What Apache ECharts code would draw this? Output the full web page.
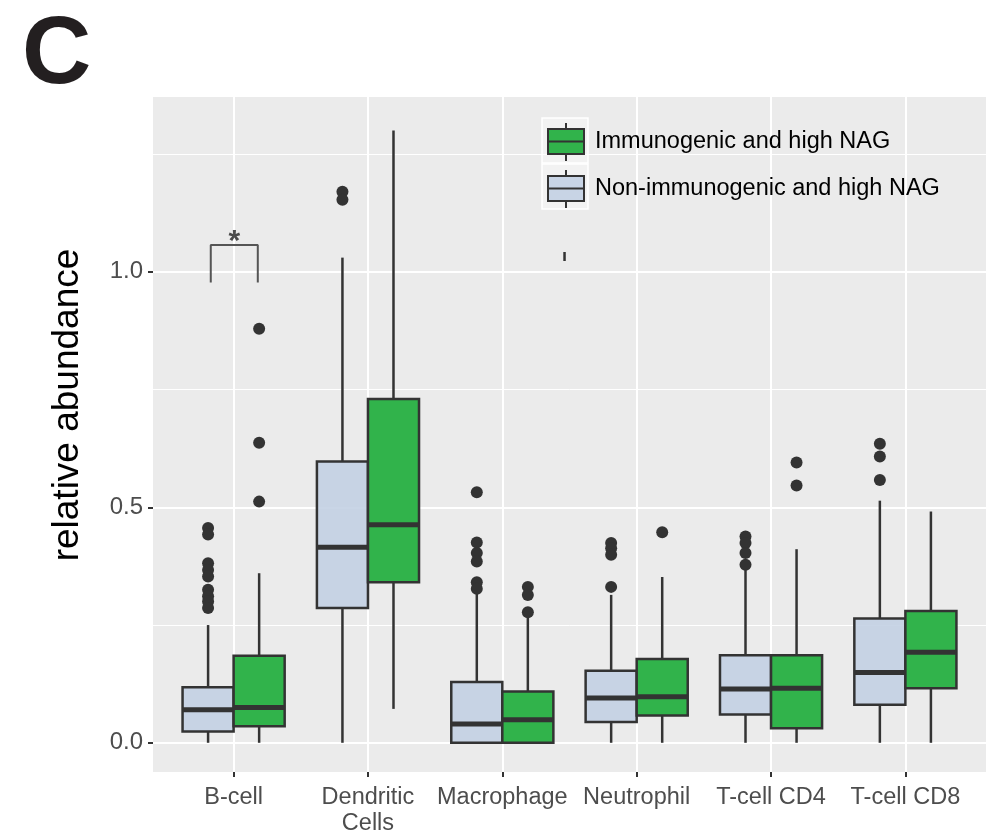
<!DOCTYPE html>
<html lang="en">
<head>
    <meta charset="UTF-8">
    <title>relative abundance</title>
    <script src="https://cdn.jsdelivr.net/npm/echarts@6/dist/echarts.min.js"></script>
    <style>
        html, body {
            margin: 0;
            padding: 0;
            background: #fff;
        }

        #chart1 {
            width: 986px;
            height: 837px;
        }
    </style>
</head>
<body>
<div id="chart1"></div>

<script>
    var FONT = "'Liberation Sans', Arial, Helvetica, sans-serif";

    var categories = ['B-cell', 'Dendritic\nCells', 'Macrophage', 'Neutrophil', 'T-cell CD4', 'T-cell CD8'];
    var seriesNames = ['Immunogenic and high NAG', 'Non-immunogenic and high NAG'];
    var yMajorTicks = [0, 0.5, 1.0];
    var yMinorTicks = [0.25, 0.75, 1.25];

    // [min, Q1, median, Q3, max] per category
    var immunoBoxes = [
        [0.000, 0.035, 0.075, 0.185, 0.360],
        [0.072, 0.341, 0.463, 0.730, 1.300],
        [0.000, 0.000, 0.049, 0.109, 0.265],
        [0.000, 0.058, 0.098, 0.178, 0.352],
        [0.000, 0.031, 0.116, 0.186, 0.411],
        [0.000, 0.116, 0.192, 0.280, 0.491]
    ];
    var nonImmunoBoxes = [
        [0.000, 0.024, 0.070, 0.118, 0.250],
        [0.000, 0.286, 0.415, 0.597, 1.030],
        [0.000, 0.000, 0.040, 0.129, 0.316],
        [0.000, 0.044, 0.095, 0.153, 0.314],
        [0.000, 0.060, 0.114, 0.186, 0.367],
        [0.000, 0.081, 0.149, 0.264, 0.514]
    ];

    // [category index, value]
    var immunoOutliers = [
        [0, 0.879], [0, 0.637], [0, 0.512],
        [2, 0.331], [2, 0.314], [2, 0.277],
        [3, 0.447],
        [4, 0.595], [4, 0.546]
    ];
    var nonImmunoOutliers = [
        [0, 0.456], [0, 0.442], [0, 0.381], [0, 0.367], [0, 0.353], [0, 0.325], [0, 0.311], [0, 0.300], [0, 0.286],
        [1, 1.170], [1, 1.153],
        [2, 0.532], [2, 0.425], [2, 0.403], [2, 0.385], [2, 0.341], [2, 0.327],
        [3, 0.424], [3, 0.413], [3, 0.399], [3, 0.331],
        [4, 0.438], [4, 0.424], [4, 0.403], [4, 0.378],
        [5, 0.635], [5, 0.608], [5, 0.558]
    ];

    // significance bracket over B-cell, and the stray dash near Macrophage
    var bracketPoints = [[0.83, 0.977], [0.83, 1.057], [1.18, 1.057], [1.18, 0.977]];
    var asteriskPoint = [1.005, 1.064];
    var strayDash = [[3.463, 1.023], [3.463, 1.042]];

    var OFFSET = 0.19, BOX_W = 0.38;
    var GREEN = '#31B34B', LIGHT = 'rgba(194,207,227,0.88)', DARK = '#333333';

    function boxSeries(name, boxes, color, sign) {
        return {
            name: name,
            type: 'custom',
            z: 3,
            itemStyle: {color: color, borderColor: DARK, borderWidth: 2.5},
            encode: {x: 0, y: [1, 2, 3, 4, 5]},
            data: boxes.map(function (b, i) {
                return [i + 1 + sign * OFFSET].concat(b);
            }),
            renderItem: function (params, api) {
                var x = api.value(0);
                var p = [1, 2, 3, 4, 5].map(function (d) {
                    return api.coord([x, api.value(d)]);
                });
                var half = api.size([BOX_W, 0])[0] / 2;
                var cx = p[0][0];
                var ls = {stroke: DARK, lineWidth: 2.5};
                return {
                    type: 'group',
                    children: [
                        {type: 'line', shape: {x1: cx, y1: p[0][1], x2: cx, y2: p[1][1]}, style: ls},
                        {type: 'line', shape: {x1: cx, y1: p[3][1], x2: cx, y2: p[4][1]}, style: ls},
                        {
                            type: 'rect',
                            shape: {x: cx - half, y: p[3][1], width: half * 2, height: p[1][1] - p[3][1]},
                            style: {fill: color, stroke: DARK, lineWidth: 2.5}
                        },
                        {
                            type: 'line',
                            shape: {x1: cx - half, y1: p[2][1], x2: cx + half, y2: p[2][1]},
                            style: {stroke: DARK, lineWidth: 5}
                        }
                    ]
                };
            }
        };
    }

    function outlierSeries(list, sign) {
        return {
            type: 'scatter',
            z: 4,
            symbolSize: 12,
            itemStyle: {color: DARK, opacity: 1},
            data: list.map(function (o) {
                return [o[0] + 1 + sign * OFFSET, o[1]];
            })
        };
    }

    var legendIcon = 'path://M18,0L18,6M0,6L36,6L36,31L0,31ZM0,18.5L36,18.5M18,31L18,38';

    var option = {
        animation: false,
        grid: {
            left: 153, top: 97, right: 0, bottom: 65,
            show: true, backgroundColor: '#EBEBEB', borderWidth: 0
        },
        legend: {
            data: seriesNames,
            orient: 'vertical',
            left: 547, top: 122,
            padding: 0,
            itemWidth: 36, itemHeight: 38, itemGap: 7,
            icon: legendIcon,
            selectedMode: false,
            textStyle: {fontFamily: FONT, fontSize: 23.5, color: '#000', padding: [0, 0, 0, 6]}
        },
        xAxis: {
            type: 'value',
            min: 0.4, max: 6.6,
            axisLine: {show: false, onZero: false},
            axisTick: {show: true, length: 5, customValues: [1, 2, 3, 4, 5, 6], lineStyle: {color: DARK, width: 2}},
            axisLabel: {
                customValues: [1, 2, 3, 4, 5, 6],
                formatter: function (v) { return categories[Math.round(v) - 1]; },
                fontFamily: FONT, fontSize: 23.5, color: '#4D4D4D', margin: 13, lineHeight: 26
            },
            splitLine: {show: true, lineStyle: {color: '#FFFFFF', width: 2}}
        },
        yAxis: {
            type: 'value',
            min: -0.062, max: 1.371,
            axisLine: {show: false, onZero: false},
            axisTick: {show: true, length: 5, customValues: yMajorTicks, lineStyle: {color: DARK, width: 2}},
            axisLabel: {
                customValues: yMajorTicks,
                formatter: function (v) { return v.toFixed(1); },
                fontFamily: FONT, fontSize: 24, color: '#4D4D4D', margin: 10
            },
            splitLine: {show: true, lineStyle: {color: '#FFFFFF', width: 2}}
        },
        graphic: [
            {
                type: 'text', x: 22, y: 57, z: 10,
                style: {text: 'C', font: 'bold 96px ' + FONT, fill: '#231F20', align: 'left', verticalAlign: 'middle'}
            },
            {
                type: 'text', x: 68, y: 405, rotation: Math.PI / 2, z: 10,
                style: {text: 'relative abundance', font: '37px ' + FONT, fill: '#000', align: 'center', verticalAlign: 'middle'}
            },
            {
                type: 'rect', z: 1, silent: true,
                shape: {x: 542, y: 118, width: 46, height: 45},
                style: {fill: '#F2F2F2', stroke: '#FFFFFF', lineWidth: 1.5}
            },
            {
                type: 'rect', z: 1, silent: true,
                shape: {x: 542, y: 164, width: 46, height: 45},
                style: {fill: '#F2F2F2', stroke: '#FFFFFF', lineWidth: 1.5}
            }
        ],
        series: [
            boxSeries(seriesNames[1], nonImmunoBoxes, LIGHT, -1),
            boxSeries(seriesNames[0], immunoBoxes, GREEN, 1),
            outlierSeries(nonImmunoOutliers, -1),
            outlierSeries(immunoOutliers, 1),
            {
                type: 'line',
                z: 4,
                silent: true,
                symbol: 'none',
                lineStyle: {color: '#555555', width: 2},
                data: bracketPoints,
                markLine: {
                    silent: true,
                    z: 1,
                    symbol: 'none',
                    label: {show: false},
                    lineStyle: {color: '#FFFFFF', width: 1, type: 'solid'},
                    data: yMinorTicks.map(function (v) { return {yAxis: v}; })
                }
            },
            {
                type: 'line',
                z: 4,
                silent: true,
                symbol: 'none',
                lineStyle: {color: DARK, width: 2.5},
                data: strayDash
            },
            {
                type: 'scatter',
                z: 4,
                silent: true,
                symbolSize: 1,
                itemStyle: {color: 'rgba(0,0,0,0)'},
                label: {
                    show: true, position: 'inside', formatter: '*',
                    fontFamily: FONT, fontSize: 30, fontWeight: 'bold', color: '#222222'
                },
                data: [asteriskPoint]
            }
        ]
    };

    var ctx1 = echarts.init(document.getElementById('chart1'));
    ctx1.setOption(option);
</script>
</body>
</html>
